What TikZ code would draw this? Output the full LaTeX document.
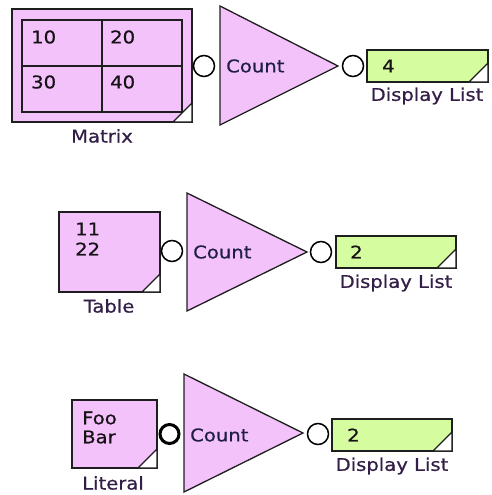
\documentclass[tikz,border=0pt]{standalone}
\usepackage{fontspec}
\setmainfont{DejaVu Sans}[FakeStretch=1.12, FakeBold=0.6]
\definecolor{pinkfill}{RGB}{243,194,250}
\definecolor{greenfill}{RGB}{214,252,160}
\definecolor{edgec}{RGB}{30,30,30}
\definecolor{lblc}{RGB}{50,30,70}
\definecolor{cntc}{RGB}{30,30,72}
\definecolor{numc}{RGB}{22,18,22}
\tikzset{
  blockbox/.style={draw=edgec, line width=1.8pt, fill=pinkfill, inner sep=0pt, outer sep=0pt},
  dispbox/.style={draw=edgec, line width=1.8pt, fill=greenfill, inner sep=0pt, outer sep=0pt, minimum width=120pt, minimum height=32pt},
  gridln/.style={draw=edgec, line width=1.8pt},
  cornertri/.style={draw=edgec, fill=white, line width=1.3pt, line join=miter},
  txt/.style={font=\fontsize{17.5}{20}\selectfont, inner sep=0pt},
  numtxt/.style={txt, text=numc, anchor=west},
  lbltxt/.style={txt, text=lblc},
  cnttxt/.style={txt, text=cntc, anchor=west},
  porto/.style={circle, draw=black, line width=1.5pt, fill=white, minimum size=21pt, inner sep=0pt},
  portsolid/.style={circle, draw=black, line width=3pt, fill=white, minimum size=19pt, inner sep=0pt},
  counttri/.style={draw=edgec, line width=1.3pt, fill=pinkfill, line join=miter},
}
\begin{document}
\begin{tikzpicture}[x=1pt, y=-1pt]
\useasboundingbox (0,0) rectangle (491,495);
\fill[white] (0,0) rectangle (491,495);

% ---------- Block 1: Matrix ----------
\node[blockbox, minimum width=180pt, minimum height=113pt] (mat) at (102,65.5) {};
\draw[gridln] (22,20) rectangle (182,112);
\draw[gridln] (102,20) -- (102,112);
\draw[gridln] (22,66) -- (182,66);
\draw[cornertri] (mat.south east) -- ++(-19,0) -- ++(19,-19) -- cycle;
\node[numtxt] (m11) at (31,37) {10};
\node[numtxt] (m12) at (110,37) {20};
\node[numtxt] (m21) at (31,82) {30};
\node[numtxt] (m22) at (110,82) {40};
\node[lbltxt] (matl) at (102,136) {Matrix};

\coordinate (t1a) at (220,6);
\coordinate (t1b) at (220,125);
\coordinate (t1c) at (338,66);
\draw[counttri] (t1a) -- (t1c) -- (t1b) -- cycle;
\node[cnttxt] (c1) at (226,66) {Count};
\node[porto] (p1in) at (204,66) {};
\node[porto] (p1out) at (353,66) {};

\node[dispbox, minimum width=121pt] (d1) at (427.5,66) {};
\draw[cornertri] (d1.south east) -- ++(-19,0) -- ++(19,-19) -- cycle;
\node[numtxt] (d1v) at (382,66) {4};
\node[lbltxt] (d1l) at (427,96) {Display List};

% ---------- Block 2: Table ----------
\node[blockbox, minimum width=101pt, minimum height=80pt] (tab) at (109.5,252) {};
\draw[cornertri] (tab.south east) -- ++(-18,0) -- ++(18,-18) -- cycle;
\node[numtxt] (t11) at (75,229) {11};
\node[numtxt] (t22) at (75,249) {22};
\node[lbltxt] (tabl) at (109,306) {Table};

\coordinate (t2a) at (187,193);
\coordinate (t2b) at (187,311);
\coordinate (t2c) at (307,252);
\draw[counttri] (t2a) -- (t2c) -- (t2b) -- cycle;
\node[cnttxt] (c2) at (193,252) {Count};
\node[porto] (p2in) at (172,251) {};
\node[porto] (p2out) at (321,252) {};

\node[dispbox] (d2) at (396,252) {};
\draw[cornertri] (d2.south east) -- ++(-19,0) -- ++(19,-19) -- cycle;
\node[numtxt] (d2v) at (350,252) {2};
\node[lbltxt] (d2l) at (396,283) {Display List};

% ---------- Block 3: Literal ----------
\node[blockbox, minimum width=85pt, minimum height=68pt] (lit) at (114.5,434) {};
\draw[cornertri] (lit.south east) -- ++(-19,0) -- ++(19,-19) -- cycle;
\node[numtxt] (foo) at (82,418) {Foo};
\node[numtxt] (bar) at (82,437) {Bar};
\node[lbltxt] (litl) at (113,483) {Literal};

\coordinate (t3a) at (184,374);
\coordinate (t3b) at (184,492);
\coordinate (t3c) at (303,433);
\draw[counttri] (t3a) -- (t3c) -- (t3b) -- cycle;
\node[cnttxt] (c3) at (190,435) {Count};
\node[portsolid] (p3in) at (169.5,434) {};
\node[porto] (p3out) at (318,434) {};

\node[dispbox] (d3) at (392,435) {};
\draw[cornertri] (d3.south east) -- ++(-19,0) -- ++(19,-19) -- cycle;
\node[numtxt] (d3v) at (347,435) {2};
\node[lbltxt] (d3l) at (392,466) {Display List};
\end{tikzpicture}
\end{document}
